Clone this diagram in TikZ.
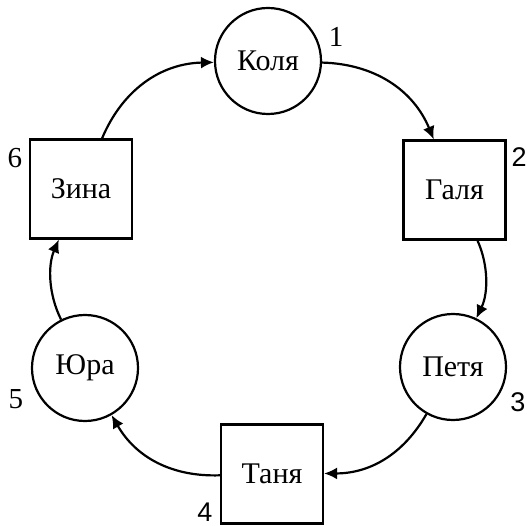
\documentclass[tikz,border=0pt]{standalone}
\usepackage{fontspec}
\setmainfont{Liberation Serif}
\newfontfamily\numsans{Liberation Sans}
\usetikzlibrary{arrows.meta}
\begin{document}
\begin{tikzpicture}[x=1pt,y=-1pt,
  every node/.style={font=\fontsize{30}{34}\selectfont, inner sep=0pt},
  person/.style={draw, line width=2.2pt, circle, minimum size=106pt},
  sqbox/.style={draw, line width=2.2pt, rectangle, minimum width=102pt, minimum height=99pt},
  numser/.style={font=\fontsize{29}{32}\selectfont},
  numsan/.style={font=\fontsize{27}{30}\selectfont\numsans},
  link/.style={line width=2.2pt, -{Latex[length=13pt,width=12pt]}}]
\useasboundingbox (0,0) rectangle (527,526);
\node[person] (kolya) at (268,61) {Коля};
\node[sqbox]  (galya) at (454.5,190) {Галя};
\node[person] (petya) at (453,367) {Петя};
\node[sqbox]  (tanya) at (272,474) {Таня};
\node[person] (yura)  at (85,368) {Юра};
\node[sqbox]  (zina)  at (81,189) {Зина};
\node[numser] (n1) at (336,37) {1};
\node[numsan] (n2) at (519,157) {2};
\node[numsan] (n3) at (518,402) {3};
\node[numsan] (n4) at (205,512) {4};
\node[numser] (n5) at (16,399) {5};
\node[numser] (n6) at (15,158) {6};
\draw[link] (kolya) to[bend left=33] (galya);
\draw[link] (galya) to[bend left=25, looseness=0.9] (petya);
\draw[link] (petya) to[bend left=30] (tanya);
\draw[link] (tanya) to[bend left=31] (yura);
\draw[link] (yura)  to[bend left=25, looseness=0.9] (zina);
\draw[link] (zina)  to[bend left=33] (kolya);
\end{tikzpicture}
\end{document}
